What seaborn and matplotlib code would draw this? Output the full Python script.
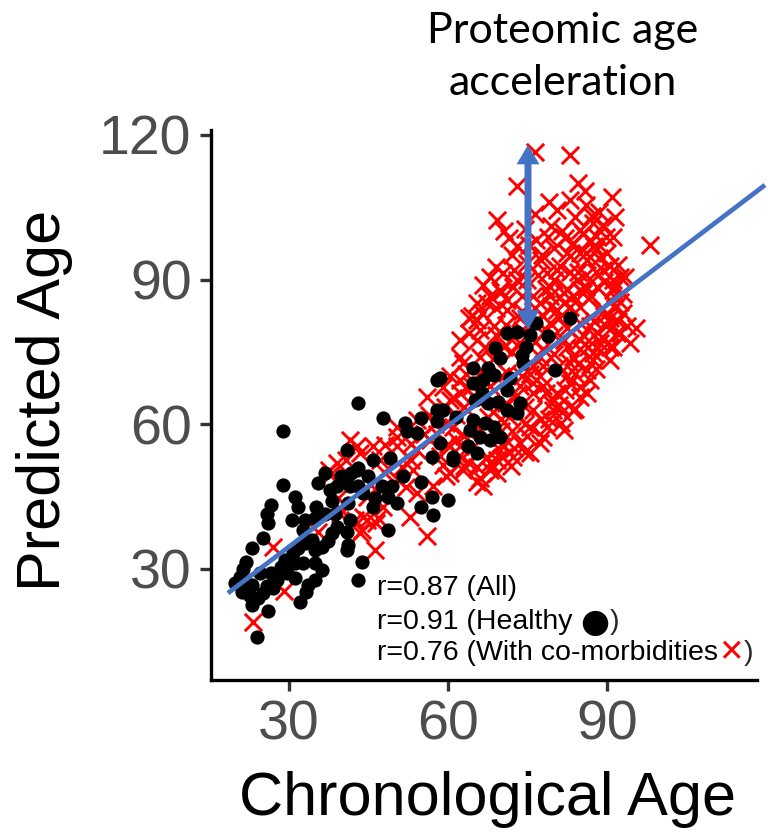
import matplotlib
matplotlib.use('Agg')
from matplotlib import pyplot as plt
import seaborn as sns

# healthy subjects (black dots)
healthy_age = [28.9, 26.7, 25.8, 26.1, 25.2, 23.0, 22.0, 20.8, 21.1, 23.0, 23.0, 24.2, 26.1, 23.9,
               27.0, 25.2, 26.7, 28.6, 29.2, 29.6, 31.1, 33.3, 32.1, 33.6, 34.9, 36.2, 34.9, 32.7,
               31.1, 30.8, 31.8, 33.0, 34.3, 34.9, 36.2, 37.4, 30.5, 31.1, 31.8, 33.0, 32.7, 35.2,
               34.9, 36.8, 38.7, 39.0, 40.9, 41.2, 40.9, 43.7, 43.1, 38.1, 35.5, 37.7, 36.8, 39.9,
               41.8, 45.0, 46.2, 43.1, 48.7, 48.7, 41.2, 38.1,
               19.8, 22.0, 22.6, 24.5, 25.8, 27.7, 21.4, 40.2, 42.8, 45.9,
               43.1, 47.8, 51.9, 52.2, 54.1, 55.0, 57.9, 57.9, 57.9, 56.9, 61.0, 49.1, 43.1, 40.9,
               39.0, 41.5, 44.0, 45.9, 49.4, 50.3, 47.5, 51.6, 55.0, 56.9, 60.1, 55.0, 57.2, 41.5,
               65.4,
               71.1, 73.0, 75.5, 76.7, 83.0, 78.9, 80.2, 68.9, 69.8, 74.8, 73.9, 74.2, 64.8, 67.6,
               68.6, 64.8, 66.7, 66.4, 65.1, 67.6, 69.5, 71.1, 73.6, 73.0, 58.5, 59.1, 61.6, 64.8,
               67.0, 68.6, 64.2, 66.0, 67.9, 69.8, 63.8, 58.5, 61.0, 71.1, 71.7,
               28.9]
healthy_pred = [47.4, 43.3, 41.5, 39.5, 36.4, 34.3, 31.5, 28.4, 25.3, 26.7, 22.5, 23.9, 21.2, 16.0,
                26.0, 25.0, 29.1, 30.5, 31.9, 29.1, 28.1, 25.3, 23.2, 26.7, 27.7, 29.8, 31.2, 31.2,
                31.2, 33.3, 34.3, 35.3, 36.0, 33.9, 34.6, 35.7, 40.2, 45.0, 42.9, 40.2, 38.1, 42.9,
                40.5, 41.5, 41.5, 38.8, 37.7, 35.0, 33.9, 31.5, 27.7, 37.4, 47.8, 46.4, 49.8, 49.2,
                49.8, 49.2, 44.7, 47.1, 38.1, 45.0, 43.6, 44.0,
                27.0, 27.0, 24.3, 29.1, 26.4, 27.7, 30.0, 48.5, 50.5, 52.6,
                64.4, 61.2, 60.2, 58.5, 58.1, 61.2, 69.2, 63.0, 60.6, 53.3, 52.6, 53.0, 50.9, 54.7,
                47.1, 47.1, 45.7, 42.9, 47.1, 43.6, 47.1, 49.2, 48.1, 45.0, 44.3, 42.9, 41.2, 40.2,
                54.0,
                78.9, 79.2, 78.5, 81.0, 82.0, 78.2, 71.3, 75.8, 73.7, 76.1, 74.4, 72.7, 71.6, 71.6,
                70.2, 68.5, 69.2, 66.4, 65.1, 64.4, 64.7, 63.0, 64.4, 62.3, 69.5, 63.0, 61.6, 60.9,
                60.2, 59.5, 58.8, 57.4, 56.7, 57.4, 55.4, 56.1, 53.3, 67.1, 69.5,
                58.6]

# subjects with co-morbidities (red crosses)
comorb_age = [23.2, 29.1, 27.0, 37.7, 39.3, 43.7, 46.2, 46.9, 44.7, 42.5, 35.5, 39.9, 56.0, 42.9,
              37.5, 40.8, 50.3, 48.2, 65.4, 65.4, 67.9, 62.9, 59.7, 57.2, 54.1, 53.5, 51.3, 50.3,
              50.3, 54.1, 56.0, 59.1, 60.4, 62.3, 62.9, 61.0, 61.6, 64.2, 67.3, 69.2, 70.4, 66.7,
              69.2, 41.5, 39.0, 43.4, 45.9, 47.2, 39.6, 44.0, 46.5, 43.4, 44.7, 47.8, 52.8, 54.1,
              56.6,
              66.7, 69.8, 72.3, 79.2, 81.8, 84.9, 88.1, 91.2, 67.3, 71.1, 77.4, 80.5, 84.9, 88.7,
              65.4, 68.6, 79.2, 86.8, 89.9, 62.3, 65.4, 81.8, 84.9, 88.7, 91.2, 62.3, 66.0, 77.4,
              83.6, 87.4, 60.4, 71.1, 77.4, 82.4, 86.8, 62.3, 76.1, 80.5, 84.9, 76.1, 79.9, 83.6,
              75.5, 78.6, 81.8, 73.6, 77.4, 72.3, 75.5, 59.7, 62.3,
              76.4, 83.0, 73.0, 69.2, 83.0, 85.9, 90.9, 87.1, 89.3, 78.9, 76.7, 75.2, 72.0, 67.9,
              77.7, 86.8, 91.2, 98.1, 83.0, 81.1, 86.2, 89.3, 92.5, 70.4, 73.0, 78.6, 84.3, 67.9,
              71.1, 79.2, 81.8, 90.6, 65.4,
              87.4, 89.9, 88.0, 84.9, 90.6, 91.2, 85.5, 83.0, 93.1, 93.7, 94.3, 91.8, 90.6, 87.4,
              90.6, 86.2, 83.0, 84.9, 86.2, 84.9, 82.4,
              95.4, 92.4, 91.4, 93.4, 84.0, 81.3, 77.9, 74.5, 71.8, 66.1, 63.1, 60.4, 88.7, 80.6,
              70.0, 72.0, 75.0, 78.0, 80.0, 74.0, 76.0, 78.0, 73.5, 76.5, 70.0, 63.5, 66.0, 69.0,
              74.0, 77.0, 80.0, 83.0, 86.0, 88.5, 82.0, 79.5, 74.5, 71.5, 85.0, 82.5, 87.5, 89.5,
              92.0, 78.5, 81.0, 83.0, 79.0, 74.5, 72.0, 70.0, 63.0, 61.0, 56.5, 58.0, 53.0, 68.0,
              70.5, 73.0, 76.0, 81.0, 85.0, 88.0, 64.5, 69.0, 75.0, 84.0, 80.5, 86.0, 88.5,
              64.5, 66.5, 68.5, 70.5, 72.5, 74.0, 76.0, 78.5, 80.5, 83.5, 85.5, 87.5, 90.0, 92.0,
              93.0, 91.5, 89.0, 86.5, 84.5, 82.0, 79.5, 77.5, 75.0, 72.5, 70.0, 67.5, 65.5, 63.5,
              61.5, 59.5, 57.5, 55.5, 53.0, 50.5, 48.0, 45.5, 52.0, 58.5, 60.0, 63.0, 66.0, 68.5,
              71.0, 73.5, 75.5, 78.0, 80.0, 82.5, 85.5, 87.5, 89.0, 90.5, 92.5, 88.0, 86.0, 83.5,
              81.0, 78.5, 76.5, 73.0, 71.0, 69.0, 67.0, 64.0, 66.5, 70.0, 72.5, 75.0, 77.5, 80.0,
              81.5, 84.5, 87.0, 73.0, 70.5, 76.5, 79.0, 84.5, 88.0, 91.5, 89.5, 68.0, 74.5, 81.5,
              78.0, 84.0, 71.5, 69.5, 64.0, 62.0, 59.0, 74.0, 79.5, 82.5, 76.0, 86.0, 64.0]
comorb_pred = [19.0, 25.4, 34.6, 49.5, 44.7, 38.1, 33.9, 40.5, 40.2, 40.2, 37.7, 42.2, 36.9, 55.4,
               50.6, 52.5, 57.3, 55.8, 48.1, 51.2, 50.5, 50.5, 49.2, 47.1, 45.7, 50.5, 51.2, 55.4,
               59.5, 60.9, 65.7, 67.8, 65.0, 69.2, 72.6, 59.5, 56.8, 54.7, 53.3, 52.6, 53.3, 47.1,
               49.8, 56.8, 51.9, 54.0, 55.4, 52.6, 41.5, 40.8, 39.5, 37.4, 45.0, 42.9, 40.8, 54.7,
               56.8,
               88.9, 87.9, 88.5, 88.5, 87.2, 87.9, 88.5, 87.9, 85.1, 83.7, 85.1, 83.7, 84.4, 83.7,
               81.6, 80.3, 81.0, 80.3, 80.3, 77.5, 77.5, 77.5, 77.5, 76.8, 76.1, 74.0, 74.0, 74.0,
               74.0, 73.3, 69.9, 70.6, 69.9, 69.9, 69.2, 66.4, 66.4, 66.4, 65.7, 63.0, 63.0, 63.0,
               59.5, 59.5, 58.8, 56.1, 56.1, 53.3, 54.0, 60.2, 55.4,
               116.5, 115.9, 109.3, 102.4, 106.5, 108.3, 107.2, 103.1, 101.3, 98.9, 98.2, 97.2, 95.1, 90.6,
               95.1, 98.2, 98.9, 97.2, 94.8, 92.7, 94.1, 92.0, 90.6, 91.3, 89.9, 91.3, 89.9, 86.5,
               85.8, 86.5, 85.1, 85.8, 85.1,
               101.7, 98.9, 96.2, 95.5, 92.7, 90.0, 87.2, 84.4, 83.0, 80.3, 76.8, 78.9, 76.1, 74.7,
               73.4, 71.3, 72.7, 67.8, 66.4, 100.3, 95.5,
               79.9, 85.4, 88.4, 90.6, 63.2, 60.3, 57.3, 54.3, 51.4, 48.8, 51.4, 49.9, 75.1, 66.2,
               70.0, 75.0, 80.5, 75.5, 78.5, 70.0, 72.0, 82.5, 82.0, 84.0, 79.0, 70.5, 79.5, 84.0,
               86.5, 91.0, 90.0, 91.5, 91.0, 94.5, 98.5, 101.0, 100.5, 98.5, 81.0, 80.0, 78.5, 82.5,
               81.5, 66.5, 64.0, 68.5, 61.0, 60.0, 58.5, 61.0, 63.5, 65.5, 62.0, 58.0, 56.0, 52.0,
               55.5, 66.0, 68.5, 72.0, 75.5, 71.5, 82.5, 92.5, 93.5, 103.0, 104.5, 105.5, 104.0,
               68.0, 71.0, 73.5, 76.0, 78.0, 83.5, 86.5, 88.0, 92.0, 97.5, 99.5, 97.0, 95.5, 93.0,
               87.0, 84.0, 78.0, 76.0, 72.5, 67.0, 64.5, 61.0, 57.5, 55.0, 58.5, 61.5, 65.0, 67.5,
               62.0, 63.5, 60.0, 58.0, 52.5, 48.5, 50.0, 47.5, 47.0, 53.5, 56.0, 57.5, 59.0, 62.5,
               64.5, 68.0, 70.5, 72.0, 74.5, 76.0, 78.5, 81.5, 84.0, 82.0, 79.0, 91.5, 88.5, 86.5,
               82.0, 79.5, 77.0, 76.5, 80.5, 78.5, 76.0, 79.0, 83.0, 87.5, 92.0, 90.0, 94.0, 96.5,
               100.0, 91.5, 86.5, 97.0, 100.0, 103.5, 106.0, 110.0, 99.0, 103.0, 89.5, 68.0, 63.5, 62.5,
               68.0, 70.5, 61.5, 55.0, 52.0, 53.5, 51.5, 79.5, 84.5, 88.0, 81.0, 95.5, 82.0]

# trend line and the acceleration arrow
fit_intercept = 9.55
fit_slope = 0.835
fit_range = [18.5, 119.8]
arrow_age = 75.1
arrow_low, arrow_high = 79.6, 117.9

x_ticks = [30, 60, 90]
y_ticks = [30, 60, 90, 120]
corr_lines = ['r=0.87 (All)', 'r=0.91 (Healthy ', 'r=0.76 (With co-morbidities']

sns.set_style('ticks')
plt.rcParams['font.family'] = ['Liberation Sans', 'DejaVu Sans']

fig = plt.figure(figsize=(7.68, 8.34), dpi=100)
ax = fig.add_axes([0.2747, 0.1847, 0.711, 0.6595])

sns.scatterplot(x=comorb_age, y=comorb_pred, marker='x', color='#ff0000', s=155,
                linewidth=2.1, ax=ax, zorder=2)
sns.scatterplot(x=healthy_age, y=healthy_pred, marker='o', color='black', s=105,
                linewidth=0, ax=ax, zorder=3)

fit_y = [fit_intercept + fit_slope * v for v in fit_range]
ax.plot(fit_range, fit_y, color='#4472C4', lw=3.4, clip_on=False, zorder=4,
        solid_capstyle='butt')

mid = (arrow_low + arrow_high) / 2
for end in (arrow_low, arrow_high):
    ax.annotate('', xy=(arrow_age, end), xytext=(arrow_age, mid),
                arrowprops=dict(arrowstyle='simple,head_width=16.5,head_length=14,tail_width=5',
                                mutation_scale=1, color='#4472C4', lw=0,
                                shrinkA=0, shrinkB=0), zorder=5)

ax.set_xlim(15.3, 118.3)
ax.set_ylim(7.0, 121.0)
ax.set_xticks(x_ticks)
ax.set_yticks(y_ticks)
ax.tick_params(axis='both', length=8, width=2.4, color='#333333', labelcolor='#4D4D4D')
ax.tick_params(axis='x', labelsize=40, pad=6)
ax.tick_params(axis='y', labelsize=40, pad=6)
sns.despine(ax=ax)
for side in ['left', 'bottom']:
    ax.spines[side].set_linewidth(2.4)
    ax.spines[side].set_color('black')

ax.set_xlabel('Chronological Age', fontsize=44, color='black', va='center')
ax.set_ylabel('Predicted Age', fontsize=44, color='black', va='center')
ax.xaxis.set_label_coords(0.507, -0.218)
ax.yaxis.set_label_coords(-0.304, 0.509)

# correlation notes with the marker glyphs
ys = [0.167, 0.105, 0.049]
for i, txt in enumerate(corr_lines):
    t = ax.text(0.304, ys[i], txt, transform=ax.transAxes, fontsize=20.5,
                va='center', ha='left', color='black')
    if i == 1:
        g = ax.annotate('\u25cf', xy=(1, 0.5), xycoords=t, va='center', ha='left',
                        fontsize=24, color='black', family='DejaVu Sans')
        ax.annotate(')', xy=(1, 0.5), xycoords=g, va='center', ha='left', fontsize=20.5)
    if i == 2:
        g = ax.annotate('\u2715', xy=(1, 0.5), xycoords=t, va='center', ha='left',
                        fontsize=22, color='#ff0000', family='DejaVu Sans', fontweight='bold')
        ax.annotate(')', xy=(1, 0.5), xycoords=g, va='center', ha='left', fontsize=20.5)

fig.text(563 / 768, 1 - 57 / 834, 'Proteomic age\nacceleration', ha='center', va='center',
         fontsize=31, family='Lato', linespacing=1.45, color='black')

plt.savefig('out.png', dpi=100)
plt.close()
